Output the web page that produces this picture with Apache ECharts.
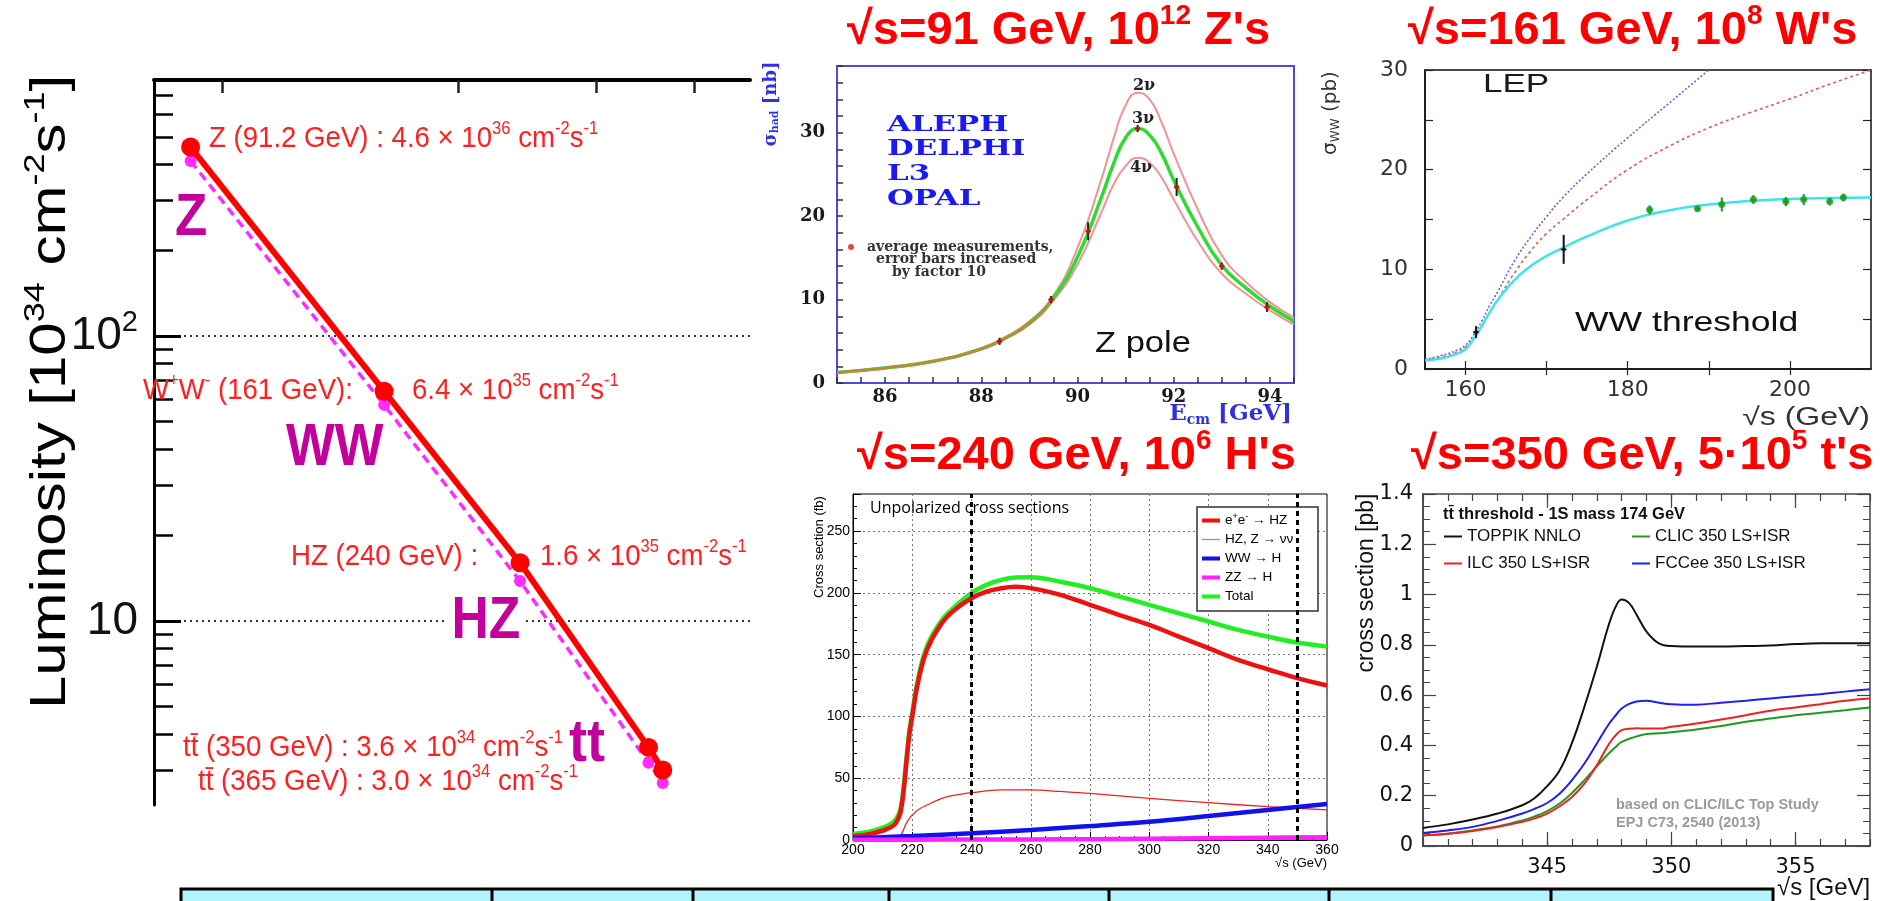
<!DOCTYPE html>
<html>
<head>
<meta charset="utf-8">
<title>FCC-ee luminosity and physics thresholds</title>
<script src="https://cdn.jsdelivr.net/npm/echarts@6.0.0/dist/echarts.min.js"></script>
<style>
  html, body { margin: 0; padding: 0; background: #fff; }
  #main { width: 1895px; height: 901px; }
</style>
</head>
<body>
<div id="main"></div>
<script>
// luminosity vs energy (units of 1e34 cm^-2 s^-1)
const lumEnergy = [91.2, 161, 240, 350, 365];
const lumBaseline = [460, 64, 16, 3.6, 3.0];
const lumAlt = [411, 57.3, 13.8, 3.18, 2.7];
const lumMajorTicks = [10, 100];
const lumMinorTicks = [3, 4, 5, 6, 7, 8, 9, 20, 30, 40, 50, 60, 70, 80, 90, 200, 300, 400, 500, 600, 700];
const lumTopTicks = [100, 200, 300, 400];

// Z lineshape (nb)
const zE = [85, 86, 87, 88, 88.5, 89, 89.5, 90, 90.5, 90.75, 91, 91.25, 91.5, 91.75, 92, 92.5, 93, 93.5, 94, 94.5];
const z2nu = [1.3, 1.85, 2.65, 4.2, 5.5, 7.4, 10.5, 16.2, 24.5, 29.3, 33.3, 34.8, 34.0, 31.2, 27.5, 20.8, 15.3, 12.1, 9.7, 7.8];
const z3nu = [1.27, 1.8, 2.6, 4.1, 5.4, 7.2, 10.2, 15.1, 22.3, 26.3, 29.4, 30.5, 29.7, 27.5, 24.3, 18.7, 14.1, 11.4, 9.2, 7.4];
const z4nu = [1.25, 1.75, 2.55, 4.0, 5.3, 7.0, 9.9, 14.2, 20.5, 23.8, 26.0, 27.0, 26.4, 24.6, 22.0, 17.0, 13.1, 10.7, 8.7, 7.0];
const zPtE = [88.38, 89.45, 90.22, 91.25, 92.06, 93.0, 93.94];
const zPtSigma = [5.0, 10.0, 18.2, 30.5, 23.5, 14.0, 9.1];
const zPtErr = [0.25, 0.25, 0.9, 0.25, 0.9, 0.25, 0.4];
const zXLabels = [86, 88, 90, 92, 94];
const zYLabels = [0, 10, 20, 30];

// WW threshold (pb)
const wwE = [155, 157, 159, 160, 161, 162, 163, 164, 166, 168, 170, 172, 175, 180, 185, 190, 195, 200, 205, 210];
const wwCyan = [0.87, 1.05, 1.55, 2.0, 3.0, 4.3, 5.7, 6.95, 8.9, 10.3, 11.35, 12.15, 13.3, 14.9, 15.9, 16.5, 16.85, 17.05, 17.15, 17.2];
const wwRed = [0.9, 1.2, 1.7, 2.2, 3.1, 4.3, 5.7, 7.0, 9.6, 11.8, 13.6, 15.0, 17.0, 20.0, 22.3, 24.2, 25.7, 27.1, 28.6, 30.0];
const wwBlue = [0.94, 1.35, 1.9, 2.4, 3.4, 4.8, 6.4, 7.8, 10.8, 13.2, 15.3, 17.2, 19.6, 23.2, 26.6, 30.0];
const wwPtE = [161.3, 172.1, 182.7, 188.6, 191.6, 195.5, 199.5, 201.7, 204.9, 206.6];
const wwPtSigma = [3.7, 12.0, 15.97, 16.07, 16.5, 17.0, 16.8, 17.0, 16.8, 17.2];
const wwPtErr = [0.45, 1.3, 0.3, 0.15, 0.55, 0.3, 0.3, 0.4, 0.25, 0.25];
const wwXTicks = [160, 170, 180, 190, 200];
const wwXLabels = [160, 180, 200];
const wwYTicks = [0, 5, 10, 15, 20, 25, 30];
const wwYLabels = [0, 10, 20, 30];

// Higgs production (fb)
const hE = [200, 205, 210, 212, 214, 215, 216, 217, 218, 219, 220, 222, 225, 230, 235, 240, 245, 250, 255, 260, 270, 280, 290, 300, 310, 320, 330, 340, 350, 360];
const hHZ = [3.2, 4.5, 7.5, 9.5, 12.5, 16, 22, 38, 62, 85, 100, 128, 154, 175.5, 187.6, 195.7, 201, 203.8, 205, 203.8, 198.4, 190.3, 182, 174, 164.6, 155.2, 145.7, 138.2, 131, 125];
const hTotal = [4.9, 6.5, 10.0, 12.0, 15.5, 19, 25, 41, 65, 88, 103, 131, 157, 178, 190, 199.7, 206.5, 210.5, 212.4, 212.7, 209, 203.8, 197, 190.3, 183.5, 176.8, 170, 164.6, 159.8, 156.5];
const hNuE = [215.5, 216, 217, 218, 219, 220, 222, 225, 230, 235, 240, 250, 260, 270, 280, 300, 320, 340, 360];
const hNu = [0, 2.7, 8, 13.5, 17.3, 20.2, 24.5, 28.3, 33.7, 36.5, 38.3, 40.5, 40.5, 39.3, 37.8, 33.7, 30.2, 27, 24.3];
const hFusE = [200, 220, 240, 260, 280, 300, 320, 340, 360];
const hWW = [1.3, 3.2, 5.4, 8.1, 11.3, 14.8, 19.4, 24.3, 29.1];
const hZZ = [0.2, 0.3, 0.4, 0.5, 0.7, 1.1, 1.5, 1.9, 2.2];
const hMarkE = [240, 350];
const hYLabels = [0, 50, 100, 150, 200, 250];

// top pair threshold (pb)
const tE = [340, 341, 342, 343, 344, 344.5, 345, 345.5, 346, 346.5, 347, 347.5, 347.8, 348, 348.3, 348.6, 349, 349.5, 350, 351, 352, 353, 354, 355, 356, 357, 358];
const tToppik = [0.072, 0.086, 0.105, 0.129, 0.162, 0.191, 0.238, 0.30, 0.41, 0.554, 0.713, 0.886, 0.96, 0.98, 0.966, 0.92, 0.853, 0.806, 0.795, 0.793, 0.793, 0.795, 0.797, 0.803, 0.806, 0.806, 0.806];
const tFCC = [0.052, 0.062, 0.076, 0.10, 0.129, 0.148, 0.171, 0.208, 0.262, 0.328, 0.408, 0.487, 0.525, 0.547, 0.565, 0.575, 0.578, 0.57, 0.564, 0.562, 0.57, 0.578, 0.587, 0.596, 0.604, 0.614, 0.623];
const tILC = [0.042, 0.049, 0.06, 0.076, 0.096, 0.11, 0.129, 0.158, 0.195, 0.248, 0.321, 0.408, 0.445, 0.461, 0.466, 0.468, 0.467, 0.467, 0.474, 0.487, 0.503, 0.52, 0.538, 0.551, 0.564, 0.578, 0.587];
const tCLIC = [0.042, 0.049, 0.062, 0.078, 0.102, 0.118, 0.139, 0.169, 0.211, 0.262, 0.317, 0.37, 0.398, 0.414, 0.426, 0.436, 0.445, 0.448, 0.452, 0.463, 0.477, 0.494, 0.507, 0.52, 0.53, 0.54, 0.551];
const tLabels = [345, 350, 355];

// bottom table column edges
const tableCols = [181, 492, 693, 889, 1109, 1329, 1551, 1773];

const SANS = 'Liberation Sans';
const SERIF = 'DejaVu Serif';
const RED = '#ff2020';
const MAG = '#c4009c';

const pairs = (xs, ys) => ys.map((y, i) => [xs[i], y]);
const triples = (xs, ys, es) => ys.map((y, i) => [xs[i], y, es[i]]);

function sup(fs, ff, fw, c) {
  return { fontSize: Math.round(fs * 0.6), fontFamily: ff, fontWeight: fw, fill: c, padding: [0, 0, Math.round(fs * 0.62), 0] };
}
function sub(fs, ff, fw, c) {
  return { fontSize: Math.round(fs * 0.62), fontFamily: ff, fontWeight: fw, fill: c, padding: [Math.round(fs * 0.5), 0, 0, 0] };
}
function T(x, y, text, o) {
  o = o || {};
  return {
    type: 'text', x: x, y: y, z: 50, silent: true,
    rotation: o.rot || 0, scaleX: o.sx || 1,
    style: {
      text: text, fill: o.c || '#000',
      fontFamily: o.ff || SANS, fontSize: o.fs || 16, fontWeight: o.fw || 'normal',
      align: o.al || 'left', textAlign: o.al || 'left',
      verticalAlign: 'middle', textVerticalAlign: 'middle',
      backgroundColor: o.bg, padding: o.pad, rich: o.rich
    }
  };
}

function errBars(xi, yi, pts, color, cap) {
  return {
    type: 'custom', xAxisIndex: xi, yAxisIndex: yi, data: pts, z: 4, silent: true,
    encode: { x: 0, y: 1 },
    renderItem: function (params, api) {
      const x = api.value(0), y = api.value(1), e = api.value(2);
      const lo = api.coord([x, y - e]), hi = api.coord([x, y + e]), c = api.coord([x, y]);
      return {
        type: 'group', children: [
          { type: 'line', shape: { x1: lo[0], y1: lo[1] + 1.5, x2: hi[0], y2: hi[1] - 1.5 }, style: { stroke: color, lineWidth: 2 } },
          { type: 'line', shape: { x1: c[0] - cap, y1: c[1], x2: c[0] + cap, y2: c[1] }, style: { stroke: color, lineWidth: 1.5 } }
        ]
      };
    }
  };
}

const hNames = {
  hz: 'e{s|+}e{s|-} → HZ', nunu: 'HZ, Z → νν', wwh: 'WW → H', zzh: 'ZZ → H', total: 'Total'
};

const chart = echarts.init(document.getElementById('main'));

const titleRich = { s: sup(47, SANS, 'bold', '#ff0000') };
const redRich = { s: sup(30, SANS, 'normal', RED) };
const blkRich = { s: sup(50, SANS, 'normal', '#000') };

const option = {
  animation: false,
  backgroundColor: '#fff',
  grid: [
    { left: 154, top: 80, width: 596, height: 725 },
    { left: 837, top: 66, width: 457, height: 317, show: true, borderColor: '#4b4bdc', borderWidth: 2 },
    { left: 1425, top: 70, width: 446, height: 299, show: true, borderColor: '#111', borderWidth: 1.5 },
    { left: 853, top: 494, width: 474, height: 346, show: true, borderColor: '#000', borderWidth: 1 },
    { left: 1423, top: 494, width: 447, height: 352, show: true, borderColor: '#444', borderWidth: 1.5 }
  ],
  xAxis: [
    { gridIndex: 0, type: 'log', min: 81.9, max: 471.6, position: 'top',
      axisLine: { show: true, lineStyle: { color: '#000', width: 4 } },
      axisTick: { show: true, inside: true, length: 13, customValues: lumTopTicks, lineStyle: { color: '#222', width: 2.5 } },
      axisLabel: { show: false }, splitLine: { show: false } },
    { gridIndex: 1, type: 'value', min: 85, max: 94.5, interval: 0.5,
      axisLine: { lineStyle: { color: '#4b4bdc', width: 2 } },
      axisTick: { inside: true, length: 6, lineStyle: { color: '#333', width: 1.5 } },
      axisLabel: { customValues: zXLabels, margin: 5, fontFamily: SERIF, fontWeight: 'bold', fontSize: 18, color: '#1a1a1a' },
      splitLine: { show: false } },
    { gridIndex: 2, type: 'value', min: 155, max: 210,
      axisLine: { lineStyle: { color: '#111', width: 1.5 } },
      axisTick: { inside: true, length: 8, customValues: wwXTicks, lineStyle: { color: '#222', width: 1.2 } },
      axisLabel: { customValues: wwXLabels, margin: 10, fontFamily: 'DejaVu Sans', fontSize: 22, color: '#333' },
      splitLine: { show: false } },
    { gridIndex: 2, type: 'value', min: 155, max: 210, position: 'top',
      axisLine: { show: false },
      axisTick: { inside: true, length: 6, customValues: wwXTicks, lineStyle: { color: '#222', width: 1.2 } },
      axisLabel: { show: false }, splitLine: { show: false } },
    { gridIndex: 3, type: 'value', min: 200, max: 360, interval: 20,
      axisLine: { lineStyle: { color: '#000', width: 1 } },
      axisTick: { inside: true, length: 8, lineStyle: { color: '#000' } },
      minorTick: { show: true, splitNumber: 4, length: 4, lineStyle: { color: '#000' } },
      axisLabel: { margin: 3, fontFamily: SANS, fontSize: 14, color: '#000' },
      splitLine: { show: true, lineStyle: { type: [2, 3], color: '#777', width: 1 } } },
    { gridIndex: 4, type: 'value', min: 340, max: 358, interval: 1,
      axisLine: { lineStyle: { color: '#444', width: 1.5 } },
      axisTick: { inside: true, length: 7, lineStyle: { color: '#444', width: 1.2 } },
      axisLabel: { customValues: tLabels, margin: 11, fontFamily: 'DejaVu Sans', fontSize: 21, color: '#111' },
      splitLine: { show: false } },
    { gridIndex: 4, type: 'value', min: 340, max: 358, position: 'bottom',
      axisLine: { show: false },
      axisTick: { inside: true, length: 14, customValues: tLabels, lineStyle: { color: '#444', width: 1.2 } },
      axisLabel: { show: false }, splitLine: { show: false } },
    { gridIndex: 4, type: 'value', min: 340, max: 358, interval: 1, position: 'top',
      axisLine: { show: false },
      axisTick: { inside: true, length: 7, lineStyle: { color: '#444', width: 1.2 } },
      axisLabel: { show: false }, splitLine: { show: false } },
    { gridIndex: 4, type: 'value', min: 340, max: 358, position: 'top',
      axisLine: { show: false },
      axisTick: { inside: true, length: 14, customValues: tLabels, lineStyle: { color: '#444', width: 1.2 } },
      axisLabel: { show: false }, splitLine: { show: false } }
  ],
  yAxis: [
    { gridIndex: 0, type: 'log', min: 2.26, max: 791, position: 'left',
      axisLine: { show: true, lineStyle: { color: '#000', width: 3 } },
      axisTick: { show: true, inside: true, length: 27, customValues: lumMajorTicks, lineStyle: { color: '#000', width: 3 } },
      axisLabel: {
        customValues: lumMajorTicks, margin: 16,
        fontFamily: "'Liberation Sans Narrow', 'Liberation Sans'", fontSize: 46, color: '#111',
        formatter: function (v) {
          const e = Math.round(Math.log10(v));
          return e === 1 ? '10' : '10{s|' + e + '}';
        },
        rich: { s: { fontFamily: "'Liberation Sans Narrow', 'Liberation Sans'", fontSize: 29, color: '#111', padding: [0, 0, 25, 0] } }
      },
      splitLine: { show: true, lineStyle: { type: [2, 4], color: '#333', width: 2 } } },
    { gridIndex: 0, type: 'log', min: 2.26, max: 791, position: 'left',
      axisLine: { show: false },
      axisTick: { show: true, inside: true, length: 19, customValues: lumMinorTicks, lineStyle: { color: '#000', width: 2.5 } },
      axisLabel: { show: false }, splitLine: { show: false } },
    { gridIndex: 1, type: 'value', min: 0, max: 38, interval: 2,
      axisLine: { lineStyle: { color: '#4b4bdc', width: 2 } },
      axisTick: { inside: true, length: 6, lineStyle: { color: '#333', width: 1.5 } },
      axisLabel: { customValues: zYLabels, margin: 12, fontFamily: SERIF, fontWeight: 'bold', fontSize: 18, color: '#1a1a1a' },
      splitLine: { show: false } },
    { gridIndex: 2, type: 'value', min: 0, max: 30, position: 'left',
      axisLine: { lineStyle: { color: '#111', width: 1.5 } },
      axisTick: { inside: true, length: 8, customValues: wwYTicks, lineStyle: { color: '#222', width: 1.2 } },
      axisLabel: { customValues: wwYLabels, margin: 17, fontFamily: 'DejaVu Sans', fontSize: 22, color: '#333' },
      splitLine: { show: false } },
    { gridIndex: 2, type: 'value', min: 0, max: 30, position: 'right',
      axisLine: { show: false },
      axisTick: { inside: true, length: 8, customValues: wwYTicks, lineStyle: { color: '#222', width: 1.2 } },
      axisLabel: { show: false }, splitLine: { show: false } },
    { gridIndex: 3, type: 'value', min: 0, max: 280, interval: 50,
      axisLine: { lineStyle: { color: '#000', width: 1 } },
      axisTick: { inside: true, length: 8, lineStyle: { color: '#000' } },
      minorTick: { show: true, splitNumber: 5, length: 4, lineStyle: { color: '#000' } },
      axisLabel: { customValues: hYLabels, margin: 3, fontFamily: SANS, fontSize: 14, color: '#000' },
      splitLine: { show: true, lineStyle: { type: [2, 3], color: '#777', width: 1 } } },
    { gridIndex: 4, type: 'value', min: 0, max: 1.4, interval: 0.2, position: 'left',
      axisLine: { lineStyle: { color: '#444', width: 1.5 } },
      axisTick: { inside: true, length: 13, lineStyle: { color: '#444', width: 1.2 } },
      minorTick: { show: true, splitNumber: 4, length: 7, lineStyle: { color: '#444' } },
      axisLabel: { margin: 10, fontFamily: 'DejaVu Sans', fontSize: 21, color: '#111' },
      splitLine: { show: false } },
    { gridIndex: 4, type: 'value', min: 0, max: 1.4, interval: 0.2, position: 'right',
      axisLine: { show: false },
      axisTick: { inside: true, length: 13, lineStyle: { color: '#444', width: 1.2 } },
      minorTick: { show: true, splitNumber: 4, length: 7, lineStyle: { color: '#444' } },
      axisLabel: { show: false }, splitLine: { show: false } }
  ],
  legend: [
    { selectedMode: false, orient: 'vertical', left: 1198, top: 510,
      padding: [2, 4, 2, 4], itemGap: 5, itemWidth: 18, itemHeight: 14,
      textStyle: { fontFamily: SANS, fontSize: 13.5, color: '#000',
        rich: { s: { fontFamily: SANS, fontSize: 9, color: '#000', padding: [0, 0, 8, 0] } } },
      formatter: function (n) { return hNames[n]; },
      data: [
        { name: 'hz', icon: 'path://M0,0H20V4.5H0Z' },
        { name: 'nunu', icon: 'path://M0,0H20V1.4H0Z' },
        { name: 'wwh', icon: 'path://M0,0H20V4.5H0Z' },
        { name: 'zzh', icon: 'path://M0,0H20V4.5H0Z' },
        { name: 'total', icon: 'path://M0,0H20V4.5H0Z' }
      ] },
    { selectedMode: false, orient: 'vertical', left: 1444, top: 528, padding: 0,
      itemGap: 10, itemWidth: 18, itemHeight: 10,
      textStyle: { fontFamily: SANS, fontSize: 17, color: '#111' },
      data: [
        { name: 'TOPPIK NNLO', icon: 'path://M0,0H18V2H0Z' },
        { name: 'ILC 350 LS+ISR', icon: 'path://M0,0H18V2H0Z' }
      ] },
    { selectedMode: false, orient: 'vertical', left: 1632, top: 528, padding: 0,
      itemGap: 10, itemWidth: 18, itemHeight: 10,
      textStyle: { fontFamily: SANS, fontSize: 17, color: '#111' },
      data: [
        { name: 'CLIC 350 LS+ISR', icon: 'path://M0,0H18V2H0Z' },
        { name: 'FCCee 350 LS+ISR', icon: 'path://M0,0H18V2H0Z' }
      ] },
    { selectedMode: false, left: 848, top: 240, padding: 0, itemWidth: 6, itemHeight: 6,
      textStyle: { fontFamily: SERIF, fontWeight: 'bold', fontSize: 14, color: '#333',
        rich: { a: { fontFamily: SERIF, fontWeight: 'bold', fontSize: 14, color: '#333', padding: [0, 0, 0, 8] } } },
      formatter: function () { return '{a|average measurements,}'; },
      data: [{ name: 'zpts', icon: 'circle' }] }
  ],
  series: [
    // luminosity
    { type: 'line', xAxisIndex: 0, yAxisIndex: 0, data: pairs(lumEnergy, lumAlt), z: 2,
      symbol: 'circle', symbolSize: 12,
      lineStyle: { color: '#ff2cff', width: 3.5, type: [9, 6] }, itemStyle: { color: '#ff2cff' } },
    { type: 'line', xAxisIndex: 0, yAxisIndex: 0, data: pairs(lumEnergy, lumBaseline), z: 3,
      symbol: 'circle', symbolSize: 19,
      lineStyle: { color: '#ff0000', width: 6 }, itemStyle: { color: '#ff0000' } },

    // Z pole
    { name: '2nu', type: 'line', xAxisIndex: 1, yAxisIndex: 2, data: pairs(zE, z2nu), smooth: 0.5,
      symbol: 'none', lineStyle: { color: '#ef9494', width: 2 } },
    { name: '4nu', type: 'line', xAxisIndex: 1, yAxisIndex: 2, data: pairs(zE, z4nu), smooth: 0.5,
      symbol: 'none', lineStyle: { color: '#ef9494', width: 2 } },
    { name: '3nu', type: 'line', xAxisIndex: 1, yAxisIndex: 2, data: pairs(zE, z3nu), smooth: 0.5,
      symbol: 'none', lineStyle: { color: '#33d933', width: 3.5 } },
    { type: 'line', xAxisIndex: 1, yAxisIndex: 2, data: pairs(zE.slice(0, 7), z3nu.slice(0, 7)), smooth: 0.5,
      symbol: 'none', lineStyle: { color: '#c8843e', width: 2.5 } },
    errBars(1, 2, triples(zPtE, zPtSigma, zPtErr), '#222', 2.5),
    { name: 'zpts', type: 'scatter', xAxisIndex: 1, yAxisIndex: 2, data: pairs(zPtE, zPtSigma), z: 5,
      symbolSize: 5, itemStyle: { color: '#e81010' } },

    // WW threshold
    { type: 'line', xAxisIndex: 2, yAxisIndex: 3, data: pairs(wwE, wwBlue), smooth: 0.5, symbol: 'none',
      lineStyle: { color: '#6464d4', width: 1.6, type: [2, 2] } },
    { type: 'line', xAxisIndex: 2, yAxisIndex: 3, data: pairs(wwE, wwRed), smooth: 0.5, symbol: 'none',
      lineStyle: { color: '#e05a5a', width: 1.6, type: [3, 3] } },
    { type: 'line', xAxisIndex: 2, yAxisIndex: 3, data: pairs(wwE, wwCyan), smooth: 0.5, symbol: 'none',
      lineStyle: { color: '#3fe4e8', width: 2.5 } },
    errBars(2, 3, triples(wwPtE.slice(0, 2), wwPtSigma.slice(0, 2), wwPtErr.slice(0, 2)), '#111', 3),
    errBars(2, 3, triples(wwPtE.slice(2), wwPtSigma.slice(2), wwPtErr.slice(2)), '#1e9a1e', 2.5),
    { type: 'scatter', xAxisIndex: 2, yAxisIndex: 3, data: pairs(wwPtE.slice(0, 2), wwPtSigma.slice(0, 2)), z: 5,
      symbolSize: 4, itemStyle: { color: '#111' } },
    { type: 'scatter', xAxisIndex: 2, yAxisIndex: 3, data: pairs(wwPtE.slice(2), wwPtSigma.slice(2)), z: 5,
      symbolSize: 7, itemStyle: { color: '#1e9a1e' } },

    // Higgs
    { name: 'total', type: 'line', xAxisIndex: 4, yAxisIndex: 5, data: pairs(hE, hTotal), smooth: 0.4, symbol: 'none',
      lineStyle: { color: '#22ee22', width: 4.5 }, itemStyle: { color: '#22ee22' },
      markLine: { silent: true, symbol: ['none', 'none'], label: { show: false },
        lineStyle: { type: [5, 4], color: '#000', width: 3 },
        data: hMarkE.map(function (v) { return { xAxis: v }; }) } },
    { name: 'hz', type: 'line', xAxisIndex: 4, yAxisIndex: 5, data: pairs(hE, hHZ), smooth: 0.4, symbol: 'none',
      lineStyle: { color: '#ee1111', width: 4.5 }, itemStyle: { color: '#ee1111' } },
    { name: 'nunu', type: 'line', xAxisIndex: 4, yAxisIndex: 5, data: pairs(hNuE, hNu), smooth: 0.4, symbol: 'none',
      lineStyle: { color: '#ee2222', width: 1.3 }, itemStyle: { color: '#f07070' } },
    { name: 'wwh', type: 'line', xAxisIndex: 4, yAxisIndex: 5, data: pairs(hFusE, hWW), smooth: 0.4, symbol: 'none',
      lineStyle: { color: '#1111ee', width: 4.5 }, itemStyle: { color: '#1111ee' } },
    { name: 'zzh', type: 'line', xAxisIndex: 4, yAxisIndex: 5, data: pairs(hFusE, hZZ), smooth: 0.4, symbol: 'none',
      lineStyle: { color: '#ff22ff', width: 4.5 }, itemStyle: { color: '#ff22ff' } },

    // top threshold
    { name: 'TOPPIK NNLO', type: 'line', xAxisIndex: 5, yAxisIndex: 6, data: pairs(tE, tToppik), smooth: 0.4, symbol: 'none',
      lineStyle: { color: '#111', width: 2 }, itemStyle: { color: '#111' } },
    { name: 'CLIC 350 LS+ISR', type: 'line', xAxisIndex: 5, yAxisIndex: 6, data: pairs(tE, tCLIC), smooth: 0.4, symbol: 'none',
      lineStyle: { color: '#1f9a1f', width: 2 }, itemStyle: { color: '#1f9a1f' } },
    { name: 'ILC 350 LS+ISR', type: 'line', xAxisIndex: 5, yAxisIndex: 6, data: pairs(tE, tILC), smooth: 0.4, symbol: 'none',
      lineStyle: { color: '#ee2020', width: 2 }, itemStyle: { color: '#ee2020' } },
    { name: 'FCCee 350 LS+ISR', type: 'line', xAxisIndex: 5, yAxisIndex: 6, data: pairs(tE, tFCC), smooth: 0.4, symbol: 'none',
      lineStyle: { color: '#2020ee', width: 2 }, itemStyle: { color: '#2020ee' } }
  ],
  graphic: [
    // panel titles
    T(847, 31, "√s=91 GeV, 10{s|12} Z's", { fs: 47, fw: 'bold', c: '#ff0000', rich: titleRich }),
    T(1408, 31, "√s=161 GeV, 10{s|8} W's", { fs: 47, fw: 'bold', c: '#ff0000', rich: titleRich }),
    T(857, 456, "√s=240 GeV, 10{s|6} H's", { fs: 47, fw: 'bold', c: '#ff0000', rich: titleRich }),
    T(1411, 456, "√s=350 GeV, 5·10{s|5} t's", { fs: 47, fw: 'bold', c: '#ff0000', rich: titleRich }),

    // luminosity panel
    T(51, 392, 'Luminosity [10{s|34} cm{s|-2}s{s|-1}]', { fs: 50, rot: Math.PI / 2, al: 'center', sx: 1.2, c: '#000', rich: blkRich }),
    T(209, 139, 'Z (91.2 GeV) : 4.6 × 10{s|36} cm{s|-2}s{s|-1}', { fs: 30, c: RED, sx: 0.92, rich: redRich }),
    T(143, 391, 'W{s|+}W{s|-} (161 GeV):', { fs: 30, c: RED, sx: 0.92, rich: redRich }),
    T(412, 391, '6.4 × 10{s|35} cm{s|-2}s{s|-1}', { fs: 30, c: RED, sx: 0.92, rich: redRich }),
    T(291, 557, 'HZ (240 GeV) :', { fs: 30, c: RED, sx: 0.92, rich: redRich }),
    T(540, 557, '1.6 × 10{s|35} cm{s|-2}s{s|-1}', { fs: 30, c: RED, sx: 0.92, rich: redRich }),
    T(183, 748, 'tt̄ (350 GeV) : 3.6 × 10{s|34} cm{s|-2}s{s|-1}', { fs: 30, c: RED, sx: 0.92, rich: redRich }),
    T(198, 782, 'tt̄ (365 GeV) : 3.0 × 10{s|34} cm{s|-2}s{s|-1}', { fs: 30, c: RED, sx: 0.92, rich: redRich }),
    T(175, 218, 'Z', { fs: 60, fw: 'bold', c: MAG, sx: 0.88 }),
    T(286, 448, 'WW', { fs: 60, fw: 'bold', c: MAG, sx: 0.86 }),
    T(448, 621, 'HZ', { fs: 60, fw: 'bold', c: MAG, sx: 0.86, bg: '#fff', pad: [0, 4] }),
    T(569, 744, 'tt', { fs: 60, fw: 'bold', c: MAG, sx: 0.9 }),

    // Z pole panel
    T(771, 104, '{a|σ}{b|had}{a| [nb]}', { fs: 18, rot: Math.PI / 2, al: 'center', c: '#3030e0',
      rich: { a: { fontFamily: SERIF, fontWeight: 'bold', fontSize: 18, fill: '#3030e0' }, b: sub(18, SERIF, 'bold', '#3030e0') } }),
    T(1292, 414, '{a|E}{b|cm}{a| [GeV]}', { fs: 23, al: 'right', c: '#3030e0',
      rich: { a: { fontFamily: SERIF, fontWeight: 'bold', fontSize: 23, fill: '#3030e0' }, b: sub(23, SERIF, 'bold', '#3030e0') } }),
    T(887, 125, 'ALEPH', { ff: SERIF, fw: 'bold', fs: 22, c: '#1a1af0', sx: 1.4 }),
    T(887, 149, 'DELPHI', { ff: SERIF, fw: 'bold', fs: 22, c: '#1a1af0', sx: 1.4 }),
    T(887, 174, 'L3', { ff: SERIF, fw: 'bold', fs: 22, c: '#1a1af0', sx: 1.4 }),
    T(887, 199, 'OPAL', { ff: SERIF, fw: 'bold', fs: 22, c: '#1a1af0', sx: 1.4 }),
    T(876, 259, 'error bars increased', { ff: SERIF, fw: 'bold', fs: 14, c: '#333' }),
    T(892, 272, 'by factor 10', { ff: SERIF, fw: 'bold', fs: 14, c: '#333' }),
    T(1095, 344, 'Z pole', { fs: 30, c: '#111', sx: 1.15 }),
    T(1144, 86, '2ν', { ff: SERIF, fw: 'bold', fs: 16, c: '#222', al: 'center' }),
    T(1143, 119, '3ν', { ff: SERIF, fw: 'bold', fs: 16, c: '#222', al: 'center' }),
    T(1141, 168, '4ν', { ff: SERIF, fw: 'bold', fs: 16, c: '#222', al: 'center' }),

    // WW panel
    T(1331, 113, 'σ{s|WW} (pb)', { ff: 'DejaVu Sans', fs: 20, rot: Math.PI / 2, al: 'center', c: '#333',
      rich: { s: sub(20, 'DejaVu Sans', 'normal', '#333') } }),
    T(1870, 418, '√s (GeV)', { fs: 25, al: 'right', c: '#333', sx: 1.28 }),
    T(1483, 85, 'LEP', { fs: 25, c: '#1a1a1a', sx: 1.4 }),
    T(1575, 323, 'WW threshold', { fs: 28, c: '#111', sx: 1.27 }),

    // Higgs panel
    T(819, 547, 'Cross section (fb)', { fs: 13, rot: Math.PI / 2, al: 'center', c: '#000' }),
    T(1327, 863, '√s (GeV)', { fs: 13, al: 'right', c: '#000' }),
    T(870, 508, 'Unpolarized cross sections', { ff: 'Open Sans', fs: 16, c: '#000' }),
    // frame of the Higgs legend, drawn over the series and under the legend
    { type: 'rect', z: 3, silent: true,
      shape: { x: 1197, y: 507, width: 121, height: 104 },
      style: { fill: '#fff', stroke: '#333', lineWidth: 1.5 } },

    // top threshold panel
    T(1367, 583, 'cross section [pb]', { fs: 23, rot: Math.PI / 2, al: 'center', c: '#111' }),
    T(1777, 888, '√s [GeV]', { fs: 24, c: '#111' }),
    T(1443, 514, 'tt̄ threshold - 1S mass 174 GeV', { fs: 16.5, fw: 'bold', c: '#111' }),
    T(1616, 805, 'based on CLIC/ILC Top Study', { fs: 14.5, fw: 'bold', c: '#9a9a9a' }),
    T(1616, 823, 'EPJ C73, 2540 (2013)', { fs: 14.5, fw: 'bold', c: '#9a9a9a' }),

    // bottom table (cut off by the frame)
    { type: 'rect', z: 1, silent: true,
      shape: { x: tableCols[0], y: 889, width: tableCols[tableCols.length - 1] - tableCols[0], height: 30 },
      style: { fill: '#b3f4fc', stroke: '#000', lineWidth: 3 } }
  ].concat(tableCols.slice(1, -1).map(function (x) {
    return { type: 'line', z: 2, silent: true, shape: { x1: x, y1: 889, x2: x, y2: 905 }, style: { stroke: '#000', lineWidth: 3 } };
  }))
};

chart.setOption(option);
</script>
</body>
</html>
